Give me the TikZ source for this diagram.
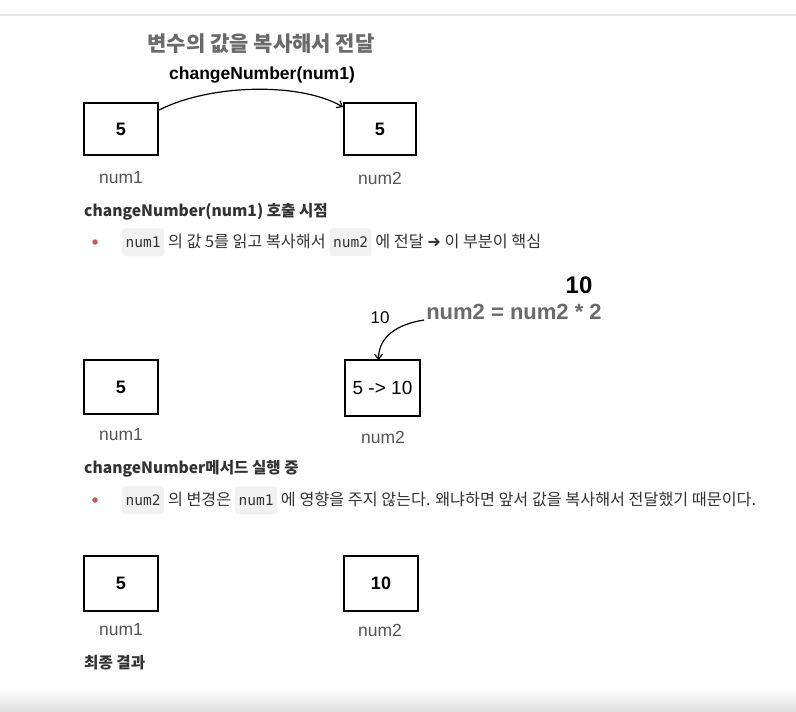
\documentclass[tikz,border=0pt]{standalone}
\usepackage{fontspec}
\setmainfont{Liberation Sans}
\newfontfamily\kr{Noto Sans CJK KR}
\newfontfamily\dejavu{DejaVu Sans}
\newfontfamily\codefont{DejaVu Sans Mono}
\usetikzlibrary{arrows.meta}
\newcommand\fsz[1]{\fontsize{#1}{#1}\selectfont}
\definecolor{titlegray}{HTML}{6A6A6A}
\definecolor{labelgray}{HTML}{555555}
\definecolor{bodytext}{HTML}{333333}
\definecolor{codebg}{HTML}{F1F1F1}
\definecolor{bulletred}{HTML}{C9575A}
\definecolor{rulegray}{HTML}{E6E6E6}
\begin{document}
\begin{tikzpicture}[x=1pt,y=-1pt,
  box/.style={draw=black, line width=1.8pt, minimum width=74pt, minimum height=52pt, inner sep=0pt, font=\fsz{18}\bfseries},
  lbl/.style={text=labelgray, font=\fsz{17.5}, inner sep=0pt},
  heading/.style={anchor=west, text=bodytext, font=\kr\fsz{15.6}\bfseries, inner sep=0pt},
  code/.style={fill=codebg, rounded corners=3pt, text=bodytext, font=\codefont\fsz{14.5}, inner xsep=3.5pt, minimum height=28pt, anchor=base west},
  body/.style={text=bodytext, font=\kr\fsz{16.2}, inner xsep=3.5pt, inner ysep=0pt, anchor=base west},
  arr/.style={line width=1.2pt, -{Straight Barb[length=5pt,width=8pt]}},
  bullet/.style={circle, fill=bulletred, inner sep=0pt, minimum size=5.5pt}
]
\useasboundingbox (0,0) rectangle (796,712);
% page chrome
\draw[rulegray, line width=2pt] (0,14.5) -- (796,14.5);
\shade[top color=white, bottom color=black!13] (0,688) rectangle (796,712);

% ---- section 1
\node[text=titlegray, font=\kr\fsz{21}\bfseries, inner sep=0pt] (title) at (261,44) {변수의 값을 복사해서 전달};
\node[font=\fsz{17.5}\bfseries, inner sep=0pt] (call) at (262,75) {changeNumber(num1)};
\node[box] (b1) at (121,129) {5};
\node[box, minimum width=72pt] (b2) at (380,129) {5};
\node[lbl] (l1) at (121,178) {num1};
\node[lbl] (l2) at (380,178) {num2};
\draw[arr] ([yshift=-8pt]b1.north east) .. controls (210,84) and (300,82) .. ([yshift=-5pt]b2.north west);

\node[heading] (h1) at (84,212) {changeNumber(num1) 호출 시점};
\node[bullet] (d1) at (95,242) {};
\node[code] (c1a) at (122,247.5) {num1};
\node[body] (t1a) at (c1a.base east) {의 값 5를 읽고 복사해서};
\node[code] (c1b) at (t1a.base east) {num2};
\node[body] (t1b) at (c1b.base east) {에 전달 {\dejavu ➜} 이 부분이 핵심};

% ---- section 2
\node[font=\fsz{24}\bfseries, inner sep=0pt] (ten) at (579,285) {10};
\node[text=titlegray, font=\fsz{22}\bfseries, inner sep=1pt] (eq) at (514,312) {num2 = num2 * 2};
\node[font=\fsz{17}, inner sep=0pt] (tensmall) at (380,318) {10};
\node[box, minimum height=54pt] (b3) at (121,387) {5};
\node[box, minimum width=75pt, minimum height=56pt, font=\fsz{19}] (b4) at (382.5,388) {5 -> 10};
\node[lbl] (l3) at (121,435) {num1};
\node[lbl] (l4) at (383,437) {num2};
\draw[arr] ([xshift=-1pt,yshift=-8pt]eq.west) .. controls +(-26,4) and +(0,-24) .. ([xshift=-4pt,yshift=-1pt]b4.north);

\node[heading] (h2) at (84,469) {changeNumber메서드 실행 중};
\node[bullet] (d2) at (95,500) {};
\node[code] (c2a) at (122,505.5) {num2};
\node[body] (t2a) at (c2a.base east) {의 변경은};
\node[code] (c2b) at (t2a.base east) {num1};
\node[body] (t2b) at (c2b.base east) {에 영향을 주지 않는다. 왜냐하면 앞서 값을 복사해서 전달했기 때문이다.};

% ---- section 3
\node[box, minimum height=55pt] (b5) at (121,583.5) {5};
\node[box, minimum height=55pt] (b6) at (381,583.5) {10};
\node[lbl] (l5) at (121,630) {num1};
\node[lbl] (l6) at (380,630) {num2};
\node[heading] (h3) at (84,663) {최종 결과};
\end{tikzpicture}
\end{document}
